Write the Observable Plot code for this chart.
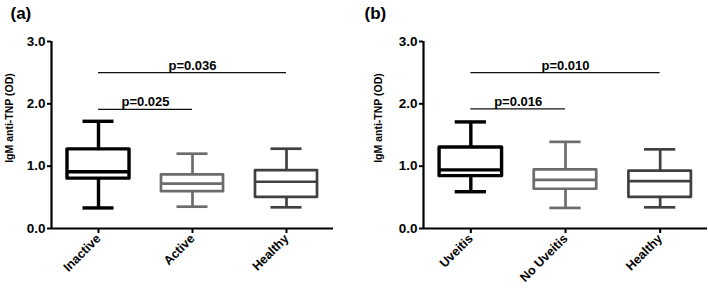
<!DOCTYPE html>
<html>
<head>
<meta charset="utf-8">
<script src="https://cdn.jsdelivr.net/npm/d3@7"></script>
<script src="https://cdn.jsdelivr.net/npm/@observablehq/plot@0.6"></script>
<style>
  html, body { margin: 0; padding: 0; background: #fff; }
  #wrap { display: flex; flex-direction: row; width: 708px; height: 289px; }
</style>
</head>
<body>
<div id="wrap"></div>
<script>
// ---- Data ----
const panelLabels = ["(a)", "(b)"];
const yTitle = "IgM anti-TNP (OD)";
const yTicks = [0, 1, 2, 3];

const groupsA = ["Inactive", "Active", "Healthy"];
const minA = [0.33, 0.35, 0.34];
const q1A  = [0.80, 0.59, 0.50];
const medA = [0.91, 0.72, 0.75];
const q3A  = [1.27, 0.86, 0.93];
const maxA = [1.72, 1.20, 1.28];
const sigFromA = [0, 0];
const sigToA = [1, 2];
const sigLevelA = [1.91, 2.50];
const sigTextA = ["p=0.025", "p=0.036"];

const groupsB = ["Uveitis", "No Uveitis", "Healthy"];
const minB = [0.59, 0.33, 0.34];
const q1B  = [0.84, 0.63, 0.50];
const medB = [0.94, 0.78, 0.76];
const q3B  = [1.30, 0.94, 0.92];
const maxB = [1.71, 1.39, 1.27];
const sigFromB = [0, 0];
const sigToB = [1, 2];
const sigLevelB = [1.92, 2.50];
const sigTextB = ["p=0.016", "p=0.010"];

const boxColors = ["#000000", "#6c6c6c", "#404040"];
const boxWidths = [3.4, 2.7, 2.7];

const FONT = "'Liberation Sans', Arial, Helvetica, sans-serif";

function makePanel(label, groups, mins, q1s, meds, q3s, maxs, sFrom, sTo, sLevel, sText, marginLeft, marginRight, titleDx) {
  const boxes = groups.map((g, i) => ({
    i, g, min: mins[i], q1: q1s[i], med: meds[i], q3: q3s[i], max: maxs[i],
    color: boxColors[i], sw: boxWidths[i]
  }));
  const sigs = sText.map((t, k) => ({from: sFrom[k], to: sTo[k], y: sLevel[k], t}));
  const hw = 0.33;   // half box width (in category units)
  const cw = 0.165;  // half cap width

  return Plot.plot({
    width: 354,
    height: 289,
    marginLeft,
    marginRight,
    marginTop: 41,
    marginBottom: 61,
    style: {fontFamily: FONT, fontWeight: "bold", color: "#000", background: "#fff", overflow: "visible"},
    x: {type: "linear", domain: [-0.5, groups.length - 0.5]},
    y: {domain: [0, 3]},
    marks: [
      // whiskers
      Plot.ruleX(boxes, {x: "i", y1: "q3", y2: "max", stroke: "color", strokeWidth: "sw"}),
      Plot.ruleX(boxes, {x: "i", y1: "min", y2: "q1", stroke: "color", strokeWidth: "sw"}),
      // caps
      Plot.ruleY(boxes, {x1: d => d.i - cw, x2: d => d.i + cw, y: "max", stroke: "color", strokeWidth: "sw"}),
      Plot.ruleY(boxes, {x1: d => d.i - cw, x2: d => d.i + cw, y: "min", stroke: "color", strokeWidth: "sw"}),
      // boxes
      Plot.rect(boxes, {x1: d => d.i - hw, x2: d => d.i + hw, y1: "q1", y2: "q3", fill: "white", stroke: "color", strokeWidth: "sw", strokeLinejoin: "round"}),
      // medians
      Plot.ruleY(boxes, {x1: d => d.i - hw, x2: d => d.i + hw, y: "med", stroke: "color", strokeWidth: "sw"}),
      // significance bars
      Plot.ruleY(sigs, {x1: "from", x2: "to", y: "y", stroke: "#111", strokeWidth: 1.3}),
      Plot.text(sigs, {x: d => (d.from + d.to) / 2, y: "y", text: "t", lineAnchor: "bottom", dy: -3, fontSize: 13, fontWeight: "bold", fill: "#000"}),
      // axes lines
      Plot.ruleY([0], {stroke: "#000", strokeWidth: 2.2}),
      Plot.ruleX([-0.5], {y1: 0, y2: 3, stroke: "#000", strokeWidth: 2.2}),
      Plot.axisY({ticks: yTicks, tickFormat: d3.format(".1f"), tickSize: 4, tickPadding: 2, fontSize: 13.5, fontWeight: "bold", strokeWidth: 2, label: null}),
      Plot.axisX({ticks: groups.map((g, i) => i), tickFormat: i => groups[i], tickSize: 5, tickPadding: 3, tickRotate: -45, fontSize: 12.5, fontWeight: "bold", strokeWidth: 2, label: null}),
      // y title
      Plot.text([yTitle], {frameAnchor: "left", textAnchor: "middle", rotate: -90, dx: -titleDx, dy: -17, fontSize: 10.5, fontWeight: "bold", fill: "#000"}),
      // panel label
      Plot.text([label], {frameAnchor: "top-left", dx: 10 - marginLeft, dy: -35, textAnchor: "start", fontSize: 17, fontWeight: "bold", fill: "#000"})
    ]
  });
}

const wrap = document.getElementById("wrap");
wrap.appendChild(makePanel(panelLabels[0], groupsA, minA, q1A, medA, q3A, maxA, sigFromA, sigToA, sigLevelA, sigTextA, 51, 21, 42));
wrap.appendChild(makePanel(panelLabels[1], groupsB, minB, q1B, medB, q3B, maxB, sigFromB, sigToB, sigLevelB, sigTextB, 69, 1, 45));
</script>
</body>
</html>
